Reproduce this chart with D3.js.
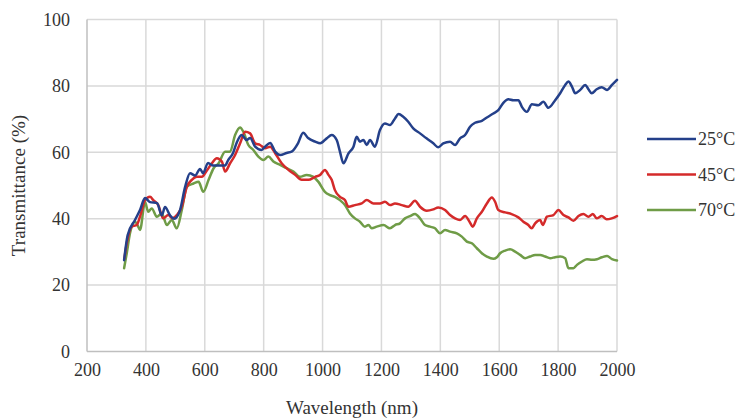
<!DOCTYPE html>
<html>
<head>
<meta charset="utf-8">
<script src="https://cdn.jsdelivr.net/npm/d3@7/dist/d3.min.js"></script>
<style>
  html, body { margin: 0; padding: 0; background: #fff; }
  svg { display: block; }
  text { font-family: "Liberation Serif", "Times New Roman", serif; fill: #333; }
</style>
</head>
<body>
<svg id="chart" width="744" height="420"></svg>
<script>
// Transmittance spectra at three temperatures (wavelength in nm, transmittance in %)
const wl25 = [326,338,363,380,397,414,438,454,465,482,496,516,533,550,567,584,594,611,628,652,669,679,696,708,725,742,754,771,793,805,822,839,856,878,895,917,934,951,975,992,1014,1031,1048,1059,1071,1088,1105,1116,1127,1139,1150,1161,1178,1195,1212,1229,1246,1258,1274,1291,1308,1331,1353,1376,1393,1410,1433,1450,1467,1484,1501,1518,1541,1558,1580,1597,1614,1631,1648,1665,1677,1694,1711,1733,1750,1767,1790,1807,1824,1835,1847,1858,1875,1892,1903,1914,1931,1948,1966,1983,2000];
const t25 = [27.5,35,39.6,42.6,46.2,45,44.7,41,43.5,41,40,42.6,49.5,53.7,53,55,53.7,56.8,56,56,56,57.6,59.8,62.8,65.2,63.7,64.3,61.7,60.7,61.7,62.8,60.2,59.2,59.8,60.2,62.8,65.9,64.3,63.2,62.7,64.2,65.2,63.7,60.2,56.7,59.7,61.7,64.7,63.2,63.7,62.2,63.7,61.7,66.7,68.7,68.2,70.2,71.5,70.7,69.2,67.2,65.7,64.2,62.7,61.5,62.7,63.2,62.2,64.2,65.2,67.7,68.9,69.5,70.5,71.7,72.7,74.9,76,75.7,75.7,73.7,72.2,74.5,74.2,75.2,73.4,75.7,77.8,80.3,81.3,79.8,77.8,78.8,80.3,79,77.8,79,79.6,78.8,80.3,81.8];

const wl45 = [327,335,352,369,380,397,414,425,442,459,476,490,505,522,539,556,573,590,607,624,641,658,669,686,703,720,737,754,771,788,805,822,839,861,884,907,929,952,975,992,1008,1020,1031,1042,1059,1076,1088,1110,1133,1150,1173,1195,1212,1229,1246,1269,1291,1314,1331,1354,1376,1393,1416,1433,1450,1467,1484,1501,1510,1524,1541,1558,1575,1586,1597,1620,1642,1665,1682,1699,1710,1722,1739,1748,1762,1784,1801,1818,1835,1852,1869,1886,1903,1918,1931,1948,1965,1982,2000];
const t45 = [28,32.6,37.6,38.1,40.6,45.6,46.6,45.6,44.1,40.1,41.1,40.1,41.1,43.6,49.6,51.7,52.6,52.6,54.5,56.7,58.2,57.2,54.2,56.7,59.2,62.7,66.2,65.7,62.7,62.2,61.2,61.7,59.7,56.7,54.7,53.2,51.7,51.7,52.6,53.2,54.7,53.2,51.7,48.6,46.6,45.6,43.6,44.1,44.6,45.6,44.6,44.6,45.1,44.1,44.6,44.1,43.6,45.4,43.6,42.4,42.8,43.4,42.6,41.1,40.1,39.6,40.8,38.8,37.6,40.1,42.1,44.6,46.4,45.1,42.6,41.9,41.4,40.4,39.1,38.1,37.1,38.6,39.6,38.1,40.6,41.1,42.6,41.1,40.4,39.4,40.8,41.4,40.6,41.4,40.1,40.8,39.8,40.1,40.8];

const wl70 = [326,335,346,363,372,380,397,408,420,437,454,471,488,505,522,539,562,579,595,613,630,647,669,686,703,720,731,748,765,782,799,816,833,856,878,901,923,946,969,986,1008,1025,1042,1059,1076,1093,1110,1127,1144,1156,1167,1184,1207,1229,1246,1263,1280,1297,1314,1331,1348,1365,1382,1399,1416,1433,1456,1473,1490,1507,1524,1541,1558,1580,1592,1603,1620,1637,1654,1671,1688,1705,1722,1739,1756,1773,1790,1807,1824,1835,1852,1864,1881,1898,1915,1932,1949,1966,1983,2000];
const t70 = [25.1,29.6,35.6,39.1,38,36.6,45,42.1,43.1,40.6,41.6,38.1,39.6,37.1,42.6,49.6,50.6,51.1,48.1,51.7,55.2,56.7,60.2,60.2,65.2,67.5,66.2,62.2,60.7,58.7,57.7,58.7,57.2,56.2,55.2,54.2,52.6,53.2,52.6,51.1,48.1,47.1,46.6,45.6,44.1,41.6,40.1,39.1,37.6,38.1,37.1,37.6,38.1,37.1,38.1,38.6,40.1,40.8,41.4,40.1,38.1,37.6,37.1,35.6,36.6,36.1,35.6,34.6,33.1,32.6,31.1,29.6,28.6,27.9,28.4,29.6,30.4,30.8,30.1,29.1,28.1,28.6,29.1,29.1,28.6,28.1,28.4,28.6,28.1,25.1,25.1,26.1,27.1,27.8,27.6,27.8,28.4,28.8,27.8,27.4];

const seriesNames = ["25°C", "45°C", "70°C"];
const seriesColors = ["#24408a", "#d42a2a", "#6f9c47"];
const xTicks = [200, 400, 600, 800, 1000, 1200, 1400, 1600, 1800, 2000];
const yTicks = [0, 20, 40, 60, 80, 100];

const series = [
  { name: seriesNames[0], color: seriesColors[0], pts: wl25.map((w, i) => [w, t25[i]]) },
  { name: seriesNames[1], color: seriesColors[1], pts: wl45.map((w, i) => [w, t45[i]]) },
  { name: seriesNames[2], color: seriesColors[2], pts: wl70.map((w, i) => [w, t70[i]]) }
];

const svg = d3.select("#chart");
const plot = { left: 87, right: 617, top: 19.5, bottom: 351.5 };

const x = d3.scaleLinear().domain([200, 2000]).range([plot.left, plot.right]);
const y = d3.scaleLinear().domain([0, 100]).range([plot.bottom, plot.top]);

// Gridlines
const grid = svg.append("g");
grid.selectAll("line.v").data(xTicks.slice(1)).join("line")
  .attr("x1", d => x(d)).attr("x2", d => x(d))
  .attr("y1", plot.top).attr("y2", plot.bottom)
  .attr("stroke", "#d9d9d9").attr("stroke-width", 1.5);
grid.selectAll("line.h").data(yTicks.slice(1)).join("line")
  .attr("x1", plot.left).attr("x2", plot.right)
  .attr("y1", d => y(d)).attr("y2", d => y(d))
  .attr("stroke", "#d9d9d9").attr("stroke-width", 1.5);

// Axis lines
svg.append("line").attr("x1", plot.left).attr("x2", plot.right)
  .attr("y1", plot.bottom).attr("y2", plot.bottom)
  .attr("stroke", "#bfbfbf").attr("stroke-width", 1.5);
svg.append("line").attr("x1", plot.left).attr("x2", plot.left)
  .attr("y1", plot.top).attr("y2", plot.bottom)
  .attr("stroke", "#bfbfbf").attr("stroke-width", 1.5);

// Axes (labels only)
const xAxis = d3.axisBottom(x).tickValues(xTicks).tickSize(0).tickPadding(0).tickFormat(d3.format("d"));
const gx = svg.append("g").attr("transform", `translate(0,${plot.bottom + 19})`).call(xAxis);
gx.select(".domain").remove();
gx.selectAll("text").attr("font-size", 18).attr("dy", "0.32em")
  .style("font-family", '"Liberation Serif", serif').attr("fill", "#333");

const yAxis = d3.axisLeft(y).tickValues(yTicks).tickSize(0).tickPadding(17).tickFormat(d3.format("d"));
const gy = svg.append("g").attr("transform", `translate(${plot.left},0)`).call(yAxis);
gy.select(".domain").remove();
gy.selectAll("text").attr("font-size", 18)
  .style("font-family", '"Liberation Serif", serif').attr("fill", "#333");

// Axis titles
svg.append("text").attr("x", (plot.left + plot.right) / 2).attr("y", 414)
  .attr("text-anchor", "middle").attr("font-size", 19).text("Wavelength (nm)");
svg.append("text").attr("transform", `translate(25,${(plot.top + plot.bottom) / 2}) rotate(-90)`)
  .attr("text-anchor", "middle").attr("font-size", 19).text("Transmittance (%)");

// Series lines
const line = d3.line().x(d => x(d[0])).y(d => y(d[1])).curve(d3.curveMonotoneX);
svg.append("g").selectAll("path").data(series.slice().reverse()).join("path")
  .attr("d", d => line(d.pts))
  .attr("fill", "none")
  .attr("stroke", d => d.color)
  .attr("stroke-width", 2.5)
  .attr("stroke-linejoin", "round")
  .attr("stroke-linecap", "round");

// Legend
const legend = svg.append("g").attr("transform", "translate(647,139)");
const items = legend.selectAll("g").data(series).join("g")
  .attr("transform", (d, i) => `translate(0,${i * 35.5})`);
items.append("line").attr("x1", 0).attr("x2", 49).attr("y1", 0).attr("y2", 0)
  .attr("stroke", d => d.color).attr("stroke-width", 2.5);
items.append("text").attr("x", 51).attr("y", 0).attr("dy", "0.35em")
  .attr("font-size", 18).text(d => d.name);
</script>
</body>
</html>
